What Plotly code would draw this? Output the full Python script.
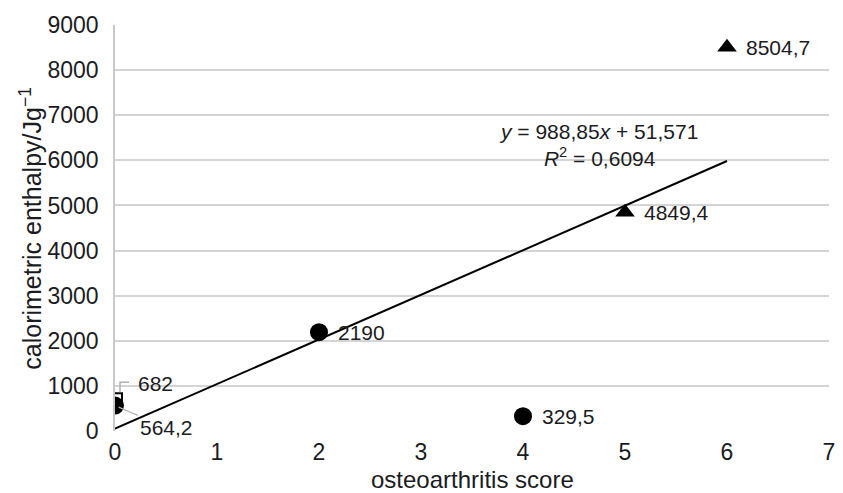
import plotly.graph_objects as go

# ---- data ----
circle_x = [0, 2, 4]
circle_y = [564.2, 2190, 329.5]
circle_labels = ["564,2", "2190", "329,5"]
square_x = [0]
square_y = [682]
square_labels = ["682"]
tri_x = [5, 6]
tri_y = [4849.4, 8504.7]
tri_labels = ["4849,4", "8504,7"]
slope = 988.85
intercept = 51.571
r2 = 0.6094
trend_x = [0, 6]
x_ticks = [0, 1, 2, 3, 4, 5, 6, 7]
y_ticks = [0, 1000, 2000, 3000, 4000, 5000, 6000, 7000, 8000, 9000]

FONT = "Liberation Sans, Arial, Helvetica, sans-serif"
TXT = "#1b1b22"

fig = go.Figure()

fig.add_trace(go.Scatter(
    x=trend_x, y=[slope * v + intercept for v in trend_x], mode="lines",
    line=dict(color="black", width=2), hoverinfo="skip", showlegend=False))

fig.add_trace(go.Scatter(
    x=square_x, y=square_y, mode="markers",
    marker=dict(symbol="square-open", size=14, color="black", line=dict(width=2, color="black")),
    showlegend=False))
fig.add_trace(go.Scatter(
    x=circle_x, y=circle_y, mode="markers",
    marker=dict(symbol="circle", size=18, color="black"), showlegend=False))
fig.add_trace(go.Scatter(
    x=tri_x, y=tri_y, mode="markers",
    marker=dict(symbol="triangle-up", size=17, color="black"), showlegend=False))

annotations = []
for xs, ys, ls in [(circle_x[1:], circle_y[1:], circle_labels[1:]), (tri_x, tri_y, tri_labels)]:
    for xv, yv, lab in zip(xs, ys, ls):
        annotations.append(dict(x=xv, y=yv, xref="x", yref="y", text=lab, showarrow=False,
                                xanchor="left", yanchor="middle", xshift=17,
                                font=dict(size=21, color=TXT, family=FONT)))
annotations.append(dict(x=circle_x[0], y=circle_y[0], xref="x", yref="y", text=circle_labels[0],
                        showarrow=True, arrowhead=0, arrowwidth=1.2, arrowcolor="#b0b0b0",
                        ax=51, ay=22, standoff=4, xanchor="center", yanchor="middle",
                        font=dict(size=21, color=TXT, family=FONT)))
annotations.append(dict(x=square_x[0], y=square_y[0], xref="x", yref="y", text=square_labels[0],
                        showarrow=False, xanchor="left", yanchor="middle", xshift=21, yshift=17,
                        font=dict(size=21, color=TXT, family=FONT)))

def fmt(v, d):
    return f"{v:.{d}f}".replace(".", ",")

eq = (f"<i>y</i> = {fmt(slope, 2)}<i>x</i> + {fmt(intercept, 3)}<br>"
      f"<i>R</i><sup>2</sup> = {fmt(r2, 4)}")
annotations.append(dict(x=4.745, y=6341, xref="x", yref="y", text=eq, showarrow=False,
                        xanchor="center", yanchor="middle", align="center",
                        font=dict(size=21, color=TXT, family=FONT)))

annotations.append(dict(x=-85 / 720, y=0.5, xref="paper", yref="paper", textangle=-90,
                        text="calorimetric enthalpy/Jg<sup>−1</sup>", showarrow=False,
                        xanchor="center", yanchor="middle",
                        font=dict(size=25, color=TXT, family=FONT)))
annotations.append(dict(x=0.5, y=-49 / 406, xref="paper", yref="paper",
                        text="osteoarthritis score", showarrow=False,
                        xanchor="center", yanchor="middle",
                        font=dict(size=24, color=TXT, family=FONT)))

shapes = [dict(type="path", xref="x", yref="y", xsizemode="pixel", ysizemode="pixel",
               xanchor=square_x[0], yanchor=square_y[0],
               path="M 5,8 L 5,18 L 14,18", line=dict(color="#b0b0b0", width=1.5))]

fig.update_layout(
    width=843, height=493,
    margin=dict(l=115, r=8, t=25, b=62),
    paper_bgcolor="white", plot_bgcolor="white",
    annotations=annotations, shapes=shapes,
    xaxis=dict(range=[0, 7], tickvals=x_ticks, showgrid=False, zeroline=False,
               showline=False, ticks="", ticklabelstandoff=5,
               tickfont=dict(size=23, color=TXT, family=FONT)),
    yaxis=dict(range=[0, 9000], tickvals=y_ticks, showgrid=True, gridcolor="#d4d4d4",
               gridwidth=1.5, zeroline=False, showline=True, linecolor="#c8c8c8",
               linewidth=1.5, ticks="", ticklabelstandoff=10,
               tickfont=dict(size=23, color=TXT, family=FONT)),
)

fig.write_html("out.html")
